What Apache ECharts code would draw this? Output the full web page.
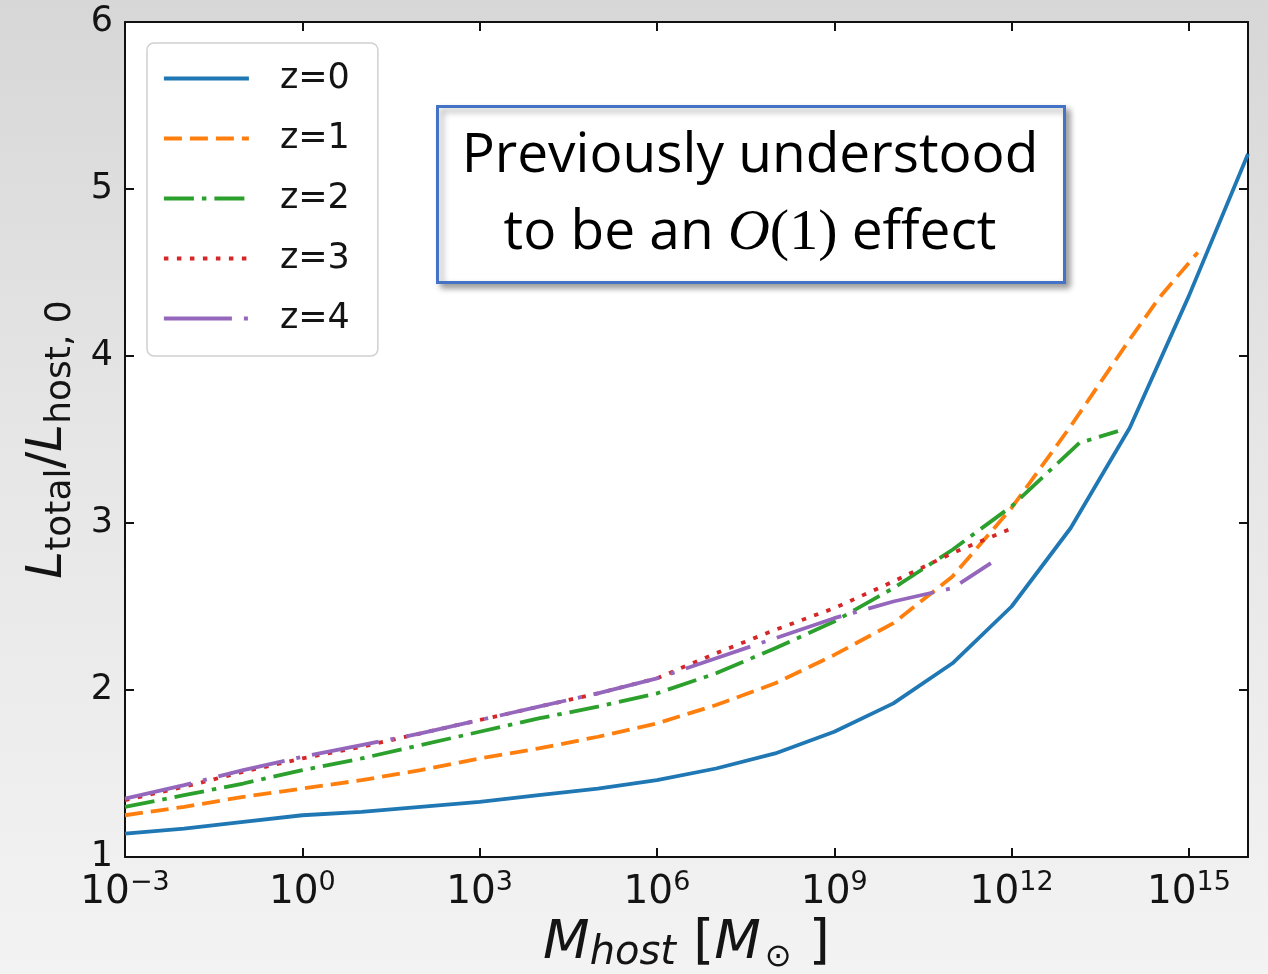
<!DOCTYPE html>
<html>
<head>
<meta charset="utf-8">
<script src="https://cdn.jsdelivr.net/npm/echarts@6/dist/echarts.min.js"></script>
<style>
html,body{margin:0;padding:0;width:1268px;height:974px;overflow:hidden;}
body{background:linear-gradient(to bottom,#d7d7d7 0%,#e6e6e6 45%,#f3f3f3 100%);}
#c{width:1268px;height:974px;}
</style>
</head>
<body>
<div id="c"></div>
<script>
// ---- data (x = log10 of M_host in solar masses) ----
const seriesNames = ['z=0', 'z=1', 'z=2', 'z=3', 'z=4'];
const xTickExps = [-3, 0, 3, 6, 9, 12, 15];
const yTickValues = [1, 2, 3, 4, 5, 6];

const z0LogM = [-3, -2, -1, 0, 1, 2, 3, 4, 5, 6, 7, 8, 9, 10, 11, 12, 13, 14, 15, 16];
const z0Val  = [1.14, 1.17, 1.21, 1.25, 1.27, 1.30, 1.33, 1.37, 1.41, 1.46, 1.53, 1.62, 1.75, 1.92, 2.16, 2.50, 2.97, 3.57, 4.36, 5.21];

const z1LogM = [-3, -2, -1, 0, 1, 2, 3, 4, 5, 6, 7, 8, 9, 10, 11, 12, 13, 14, 14.5, 15.15];
const z1Val  = [1.25, 1.30, 1.36, 1.41, 1.46, 1.52, 1.59, 1.65, 1.72, 1.80, 1.91, 2.04, 2.21, 2.40, 2.68, 3.09, 3.58, 4.10, 4.35, 4.62];

const z2LogM = [-3, -2, -1, 0, 1, 2, 3, 4, 5, 6, 7, 8, 9, 10, 11, 12, 13.15, 13.8];
const z2Val  = [1.30, 1.37, 1.44, 1.52, 1.59, 1.67, 1.75, 1.83, 1.90, 1.98, 2.10, 2.25, 2.41, 2.61, 2.84, 3.10, 3.48, 3.55];

const z3LogM = [-3, -2, -1, 0, 1, 2, 3, 4, 5, 6, 7, 8, 9, 10, 11, 11.95];
const z3Val  = [1.34, 1.42, 1.51, 1.59, 1.66, 1.74, 1.82, 1.90, 1.98, 2.07, 2.22, 2.36, 2.49, 2.65, 2.82, 2.96];

const z4LogM = [-3, -2, -1, 0, 1, 2, 3, 4, 5, 6, 7, 8, 9, 10, 11, 11.65];
const z4Val  = [1.35, 1.43, 1.52, 1.60, 1.67, 1.74, 1.82, 1.90, 1.98, 2.07, 2.19, 2.31, 2.43, 2.53, 2.61, 2.76];

// ---- styles ----
const colors = ['#1f77b4', '#ff7f0e', '#2ca02c', '#d62728', '#9467bd'];
const dashTypes = ['solid', [18, 8], [30, 8, 4.5, 8], [4.5, 8.5], [68, 12, 4, 12]];
const LW = 3.8;

const xs = [z0LogM, z1LogM, z2LogM, z3LogM, z4LogM];
const ys = [z0Val, z1Val, z2Val, z3Val, z4Val];

function pairs(a, b) { return a.map((v, i) => [v, b[i]]); }

const series = seriesNames.map((name, i) => ({
  name: name,
  type: 'line',
  xAxisIndex: 0,
  yAxisIndex: 0,
  data: pairs(xs[i], ys[i]),
  symbol: 'none',
  smooth: false,
  color: colors[i],
  lineStyle: { color: colors[i], width: LW, type: dashTypes[i], cap: 'butt' },
  z: 2 + i,
  animation: false
}));

function supLabel(v) {
  if (xTickExps.indexOf(v) < 0) return '';
  const s = v < 0 ? '\u2212' + (-v) : String(v);
  return '{b|10}{s|' + s + '}';
}

const txt = '#141414';
const tickStyle = { inside: true, length: 9, lineStyle: { color: '#111', width: 2 } };
const lineStyleAxis = { show: true, onZero: false, lineStyle: { color: '#111', width: 2 } };

const option = {
  animation: false,
  backgroundColor: 'transparent',
  grid: { left: 125, top: 22, right: 20, bottom: 117, containLabel: false, outerBoundsMode: 'none',
          show: true, backgroundColor: '#ffffff', borderWidth: 0 },
  legend: {
    orient: 'vertical',
    left: 147, top: 43,
    data: seriesNames,
    itemWidth: 85, itemHeight: 20, itemGap: 25,
    padding: [18, 28, 20, 15],
    backgroundColor: 'rgba(255,255,255,0.85)',
    borderColor: '#d0d0d0', borderWidth: 1.5, borderRadius: 7,
    itemStyle: { opacity: 0 },
    lineStyle: { width: LW },
    textStyle: { fontFamily: 'DejaVu Sans', fontSize: 35, color: txt, lineHeight: 34, padding: [0, 0, 0, 26] },
    selectedMode: false
  },
  xAxis: [{
    type: 'value', min: -3, max: 16, interval: 3, position: 'bottom',
    axisLine: lineStyleAxis, axisTick: tickStyle, splitLine: { show: false },
    axisLabel: {
      margin: 12, formatter: supLabel, color: txt,
      rich: {
        b: { fontFamily: 'DejaVu Sans', fontSize: 39, color: txt },
        s: { fontFamily: 'DejaVu Sans', fontSize: 27, color: txt, padding: [0, 0, 20, 0] }
      }
    },
    name: '{i|M}{s|host}{n| [}{i|M}{o|\u2299}{n| ]}',
    nameLocation: 'middle', nameGap: 55,
    nameTextStyle: {
      color: txt,
      rich: {
        i: { fontFamily: 'DejaVu Sans', fontStyle: 'italic', fontSize: 54, color: txt },
        s: { fontFamily: 'DejaVu Sans', fontStyle: 'italic', fontSize: 40, color: txt, padding: [20, 0, 0, 0] },
        n: { fontFamily: 'DejaVu Sans', fontSize: 54, color: txt },
        o: { fontFamily: 'DejaVu Sans', fontSize: 32, color: txt, padding: [28, 0, 0, 4] }
      }
    }
  }, {
    type: 'value', min: -3, max: 16, interval: 3, position: 'top',
    axisLine: lineStyleAxis, axisTick: tickStyle, splitLine: { show: false },
    axisLabel: { show: false }
  }],
  yAxis: [{
    type: 'value', min: yTickValues[0], max: yTickValues[yTickValues.length - 1], interval: 1, position: 'left',
    axisLine: lineStyleAxis, axisTick: tickStyle, splitLine: { show: false },
    axisLabel: { margin: 12, color: txt, fontFamily: 'DejaVu Sans', fontSize: 35 },
    name: '{i|L}{s|total}{n|/}{i|L}{s|host, 0}',
    nameLocation: 'middle', nameGap: 46,
    nameTextStyle: {
      color: txt,
      rich: {
        i: { fontFamily: 'DejaVu Sans', fontStyle: 'italic', fontSize: 50, color: txt },
        s: { fontFamily: 'DejaVu Sans', fontSize: 36, color: txt, padding: [26, 0, 0, 0] },
        n: { fontFamily: 'DejaVu Sans', fontSize: 50, color: txt }
      }
    }
  }, {
    type: 'value', min: yTickValues[0], max: yTickValues[yTickValues.length - 1], interval: 1, position: 'right',
    axisLine: lineStyleAxis, axisTick: tickStyle, splitLine: { show: false },
    axisLabel: { show: false }
  }],
  graphic: [
    {
      type: 'rect', left: 436, top: 105, z: 100,
      shape: { width: 627, height: 176 },
      style: { fill: '#ffffff', stroke: '#4472c4', lineWidth: 3,
        shadowBlur: 6, shadowOffsetX: 4, shadowOffsetY: 4, shadowColor: 'rgba(0,0,0,0.35)' }
    },
    {
      type: 'text', x: 750, y: 195, z: 101,
      style: {
        text: '{t|Previously understood}\n{t|to be an }{o|O}{m|(1)}{t| effect}',
        align: 'center', verticalAlign: 'middle',
        rich: {
          t: { fontFamily: 'Open Sans', fontSize: 55, fill: '#000', lineHeight: 77 },
          o: { fontFamily: 'Liberation Serif', fontStyle: 'italic', fontSize: 58, fill: '#000', lineHeight: 77 },
          m: { fontFamily: 'Liberation Serif', fontSize: 58, fill: '#000', lineHeight: 77 }
        }
      }
    }
  ],
  series: series
};

const chart = echarts.init(document.getElementById('c'), null, { renderer: 'canvas' });
chart.setOption(option);
</script>
</body>
</html>
